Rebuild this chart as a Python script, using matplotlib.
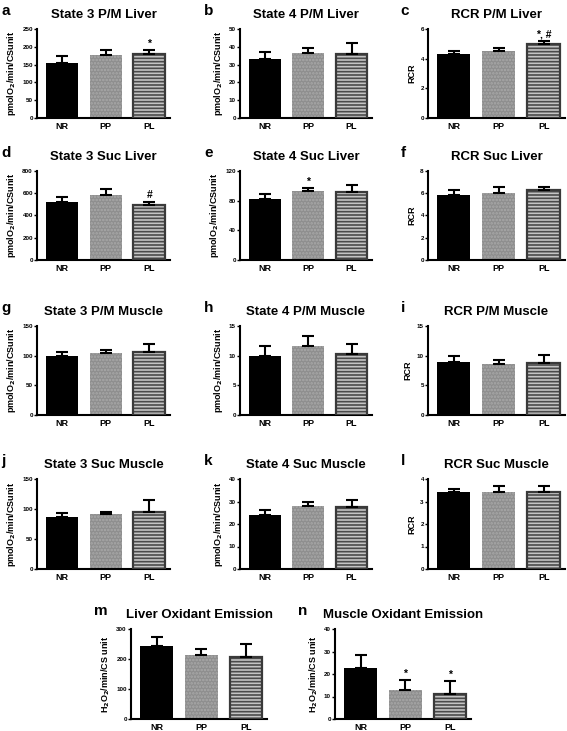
import matplotlib
matplotlib.use("Agg")
import matplotlib.pyplot as plt

plt.rcParams['font.family'] = ['Liberation Sans', 'DejaVu Sans']
plt.rcParams['font.weight'] = 'bold'
plt.rcParams['hatch.linewidth'] = 1.2

# groups on the x axis
groups = ['NR', 'PP', 'PL']

# panel data: means and upper error (SEM)
a_mean = [155, 177, 180]
a_err = [20, 13, 10]
b_mean = [33, 36.5, 36]
b_err = [4, 2.7, 6]
c_mean = [4.3, 4.5, 5.0]
c_err = [0.25, 0.2, 0.22]
d_mean = [520, 580, 490]
d_err = [45, 60, 35]
e_mean = [82, 93, 92]
e_err = [7, 4, 9]
f_mean = [5.8, 6.0, 6.25]
f_err = [0.45, 0.6, 0.3]
g_mean = [100, 105, 106]
g_err = [7, 5, 14]
h_mean = [10.0, 11.6, 10.2]
h_err = [1.6, 1.7, 1.7]
i_mean = [9.0, 8.6, 8.8]
i_err = [0.9, 0.7, 1.3]
j_mean = [87, 91, 95]
j_err = [7, 4, 20]
k_mean = [24.0, 27.8, 27.5]
k_err = [2.3, 2.0, 3.3]
l_mean = [3.42, 3.42, 3.42]
l_err = [0.13, 0.28, 0.25]
m_mean = [242, 213, 207]
m_err = [31, 22, 43]
n_mean = [22.5, 13.0, 11.3]
n_err = [6.0, 4.2, 5.4]

titles = {
    'a': 'State 3 P/M Liver', 'b': 'State 4 P/M Liver', 'c': 'RCR P/M Liver',
    'd': 'State 3 Suc Liver', 'e': 'State 4 Suc Liver', 'f': 'RCR Suc Liver',
    'g': 'State 3 P/M Muscle', 'h': 'State 4 P/M Muscle', 'i': 'RCR P/M Muscle',
    'j': 'State 3 Suc Muscle', 'k': 'State 4 Suc Muscle', 'l': 'RCR Suc Muscle',
    'm': 'Liver Oxidant Emission', 'n': 'Muscle Oxidant Emission',
}

rate_label = r'pmolO$_\mathbf{2}$/min/CSunit'
h2o2_label = r'H$_\mathbf{2}$O$_\mathbf{2}$/min/CS unit'

W, H = 567, 731
fig = plt.figure(figsize=(W / 100, H / 100), dpi=100)


def make_axes(x0, x1, ytop, ybot):
    return fig.add_axes([x0 / W, 1 - ybot / H, (x1 - x0) / W, (ybot - ytop) / H])


def draw_panel(ax, letter, mean, err, ymax, step, ylabel, marks=None):
    x = range(len(groups))
    # NR solid black
    ax.bar(0, mean[0], width=0.73, color='black', zorder=2)
    # PP grey with dotted texture
    ax.bar(1, mean[1], width=0.73, color='#8e8e8e', hatch='.....',
           edgecolor='#a9a9a9', linewidth=0, zorder=2)
    # PL horizontal stripes with dark frame
    ax.bar(2, mean[2], width=0.73, color='#c4c4c4', hatch='-----',
           edgecolor='#4a4a4a', linewidth=0, zorder=2)
    ax.bar(2, mean[2], width=0.73, color='none', edgecolor='#3a3a3a',
           linewidth=1.6, zorder=3)
    ax.errorbar(list(x), mean, yerr=[[0] * 3, err], fmt='none', ecolor='black',
                elinewidth=1.5, capsize=4.5, capthick=1.5, zorder=4)
    if marks:
        for idx, txt in marks.items():
            ax.annotate(txt, (idx, mean[idx] + err[idx]), xytext=(0, 1),
                        textcoords='offset points', ha='center', va='bottom',
                        fontsize=7.5, fontweight='bold')
    ax.set_xlim(-0.57, 2.47)
    ax.set_ylim(0, ymax)
    ax.set_yticks([v * step for v in range(int(round(ymax / step)) + 1)])
    ax.set_xticks(list(x))
    ax.set_xticklabels(groups, fontsize=6.5, fontweight='bold')
    ax.tick_params(axis='y', labelsize=4.5, length=2, width=1, pad=1)
    ax.tick_params(axis='x', length=0, pad=3)
    for s in ['top', 'right']:
        ax.spines[s].set_visible(False)
    for s in ['left', 'bottom']:
        ax.spines[s].set_linewidth(1.5)
    ax.set_ylabel(ylabel, fontsize=6.5, fontweight='bold', labelpad=3)
    ax.set_title(titles[letter], fontsize=9.5, fontweight='bold', pad=8)
    ax.text(-0.27 if ylabel != 'RCR' else -0.2, 1.2, letter, transform=ax.transAxes,
            fontsize=11, fontweight='bold', ha='left', va='center')


cols = [(37, 170), (240, 372), (428, 565)]
rows = [(29, 118), (171, 260), (326, 415), (479, 569)]

panels = [
    ('a', a_mean, a_err, 250, 50, rate_label, {2: '*'}),
    ('b', b_mean, b_err, 50, 10, rate_label, None),
    ('c', c_mean, c_err, 6, 2, 'RCR', {2: '*, #'}),
    ('d', d_mean, d_err, 800, 200, rate_label, {2: '#'}),
    ('e', e_mean, e_err, 120, 40, rate_label, {1: '*'}),
    ('f', f_mean, f_err, 8, 2, 'RCR', None),
    ('g', g_mean, g_err, 150, 50, rate_label, None),
    ('h', h_mean, h_err, 15, 5, rate_label, None),
    ('i', i_mean, i_err, 15, 5, 'RCR', None),
    ('j', j_mean, j_err, 150, 50, rate_label, None),
    ('k', k_mean, k_err, 40, 10, rate_label, None),
    ('l', l_mean, l_err, 4, 1, 'RCR', None),
]

for n, p in enumerate(panels):
    r, c = divmod(n, 3)
    ax = make_axes(cols[c][0], cols[c][1], rows[r][0], rows[r][1])
    draw_panel(ax, *p)

ax_m = make_axes(131, 267, 629, 719)
draw_panel(ax_m, 'm', m_mean, m_err, 300, 100, h2o2_label)
ax_n = make_axes(335, 471, 629, 719)
draw_panel(ax_n, 'n', n_mean, n_err, 40, 10, h2o2_label, {1: '*', 2: '*'})

fig.savefig('out.png', dpi=100)
